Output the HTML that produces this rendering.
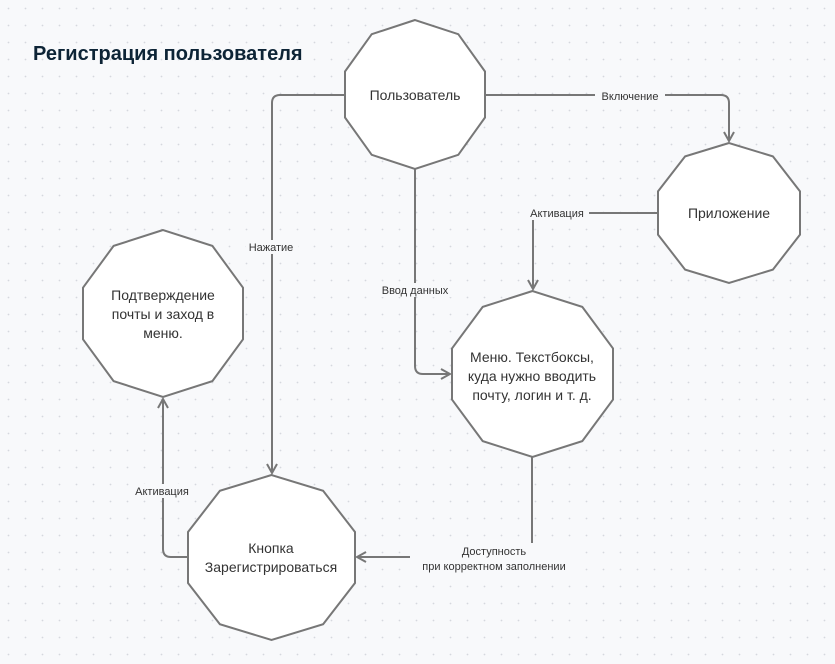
<!DOCTYPE html>
<html><head><meta charset="utf-8"><style>
html,body{margin:0;padding:0;}
body{width:835px;height:664px;overflow:hidden;background:#f8f9fb;font-family:"Liberation Sans","Noto Sans CJK SC",sans-serif;}
svg{display:block}
.l{font-size:11px;fill:#333;text-anchor:middle}
.n{font-size:14px;fill:#333;text-anchor:middle}
</style></head><body>
<svg id="s" width="835" height="664" xmlns="http://www.w3.org/2000/svg">
<defs>
<pattern id="g" width="17" height="17" patternUnits="userSpaceOnUse" x="0" y="0">
<circle cx="8.5" cy="8.5" r="0.9" fill="#d5d8de"/>
</pattern>
<marker id="a" markerWidth="12" markerHeight="12" refX="10" refY="6" orient="auto" markerUnits="userSpaceOnUse">
<path d="M1,1 L10,6 L1,11" fill="none" stroke="#777" stroke-width="2"/>
</marker>
</defs>
<rect width="835" height="664" fill="url(#g)"/>
<text x="33" y="60" font-size="20" font-weight="bold" fill="#0d2436" style="font-family:'Liberation Sans',sans-serif">Регистрация пользователя</text>
<g fill="none" stroke="#777" stroke-width="2">
<path d="M345,95 H280 Q272,95 272,103 V473" marker-end="url(#a)"/>
<path d="M485,95 H721 Q729,95 729,103 V141" marker-end="url(#a)"/>
<path d="M415,169 V366 Q415,374 423,374 H450" marker-end="url(#a)"/>
<path d="M658,213 H541 Q533,213 533,221 V289" marker-end="url(#a)"/>
<path d="M532,457 V557 H357" marker-end="url(#a)"/>
<path d="M188,557 H171 Q163,557 163,549 V399" marker-end="url(#a)"/>
</g>
<g id="shapes"></g>
<g>
<rect x="246" y="240" width="52" height="14" fill="#f8f9fb"/><text class="l" x="271" y="251">Нажатие</text>
<rect x="595" y="89" width="70" height="14" fill="#f8f9fb"/><text class="l" x="630" y="100">Включение</text>
<rect x="376" y="283" width="78" height="14" fill="#f8f9fb"/><text class="l" x="415" y="294">Ввод данных</text>
<rect x="525" y="206" width="64" height="14" fill="#f8f9fb"/><text class="l" x="557" y="217">Активация</text>
<rect x="130" y="484" width="64" height="14" fill="#f8f9fb"/><text class="l" x="162" y="495">Активация</text>
<rect x="410" y="543" width="168" height="30" fill="#f8f9fb"/>
<text class="l" x="494" y="555">Доступность</text>
<text class="l" x="494" y="570">при корректном заполнении</text>
</g>
<g id="labels">
<text class="n" x="415" y="100">Пользователь</text>
<text class="n" x="729" y="218">Приложение</text>
<text class="n" x="532" y="362">Меню. Текстбоксы,</text>
<text class="n" x="532" y="381">куда нужно вводить</text>
<text class="n" x="532" y="400">почту, логин и т. д.</text>
<text class="n" x="163" y="300">Подтверждение</text>
<text class="n" x="163" y="319">почты и заход в</text>
<text class="n" x="163" y="338">меню.</text>
<text class="n" x="271" y="553">Кнопка</text>
<text class="n" x="271" y="572">Зарегистрироваться</text>
</g>
</svg>
<script>
var S=[[345,485,20,169],[658,800,143,283],[452,613,291,457],[83,243,230,397],[188,355,475,640]];
var g=document.getElementById('shapes'),h='';
S.forEach(function(b){var cx=(b[0]+b[1])/2,cy=(b[2]+b[3])/2,rx=(b[1]-b[0])/2/Math.cos(18*Math.PI/180),ry=(b[3]-b[2])/2,p=[];
for(var k=0;k<10;k++){var a=(90+36*k)*Math.PI/180;p.push((cx+rx*Math.cos(a)).toFixed(1)+','+(cy-ry*Math.sin(a)).toFixed(1));}
h+='<polygon points="'+p.join(' ')+'" fill="#fff" stroke="#777" stroke-width="2"/>';});
g.innerHTML=h;
</script>
</body></html>
